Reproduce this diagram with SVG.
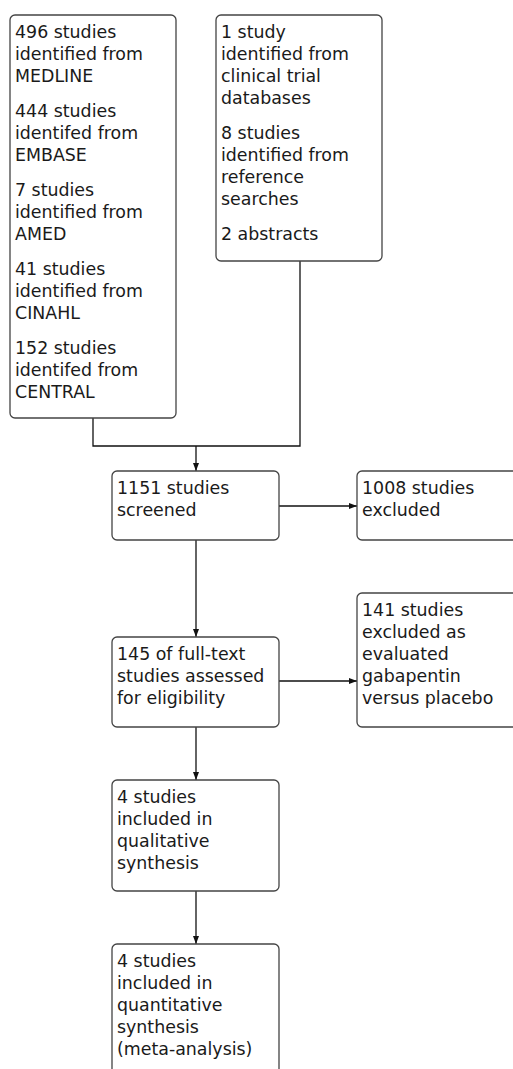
<svg xmlns="http://www.w3.org/2000/svg" width="513" height="1069" viewBox="0 0 513 1069">
<defs>
<style>
.box{fill:#ffffff;stroke:#444444;stroke-width:1.3}
.t{font-family:"DejaVu Sans","Verdana",sans-serif;font-size:17.4px;fill:#1a1a1a}
.c{fill:none;stroke:#111111;stroke-width:1.3}
</style>
<marker id="ah" viewBox="0 0 8 6" refX="8" refY="3" markerWidth="8" markerHeight="6" markerUnits="userSpaceOnUse" orient="auto">
<path d="M0,0 L8,3 L0,6 Z" fill="#111111"/>
</marker>
</defs>
<rect width="513" height="1069" fill="#ffffff"/>
<g id="connectors">
<path class="c" d="M93,418 V446 H300 V261"/>
<path class="c" d="M196,446 V471" marker-end="url(#ah)"/>
<path class="c" d="M279,506 H357" marker-end="url(#ah)"/>
<path class="c" d="M196,540 V637" marker-end="url(#ah)"/>
<path class="c" d="M279,681 H357" marker-end="url(#ah)"/>
<path class="c" d="M196,727 V780" marker-end="url(#ah)"/>
<path class="c" d="M196,891 V944" marker-end="url(#ah)"/>
</g>
<g id="n-databases">
<rect class="box" x="10" y="15" width="166" height="403" rx="5"/>
<text class="t" x="15" y="38">496 studies</text>
<text class="t" x="15" y="60">identified from</text>
<text class="t" x="15" y="82">MEDLINE</text>
<text class="t" x="15" y="117">444 studies</text>
<text class="t" x="15" y="139">identifed from</text>
<text class="t" x="15" y="161">EMBASE</text>
<text class="t" x="15" y="196">7 studies</text>
<text class="t" x="15" y="218">identified from</text>
<text class="t" x="15" y="240">AMED</text>
<text class="t" x="15" y="275">41 studies</text>
<text class="t" x="15" y="297">identified from</text>
<text class="t" x="15" y="319">CINAHL</text>
<text class="t" x="15" y="354">152 studies</text>
<text class="t" x="15" y="376">identifed from</text>
<text class="t" x="15" y="398">CENTRAL</text>
</g>
<g id="n-other">
<rect class="box" x="216" y="15" width="166" height="246" rx="5"/>
<text class="t" x="221" y="38">1 study</text>
<text class="t" x="221" y="60">identified from</text>
<text class="t" x="221" y="82">clinical trial</text>
<text class="t" x="221" y="104">databases</text>
<text class="t" x="221" y="139">8 studies</text>
<text class="t" x="221" y="161">identified from</text>
<text class="t" x="221" y="183">reference</text>
<text class="t" x="221" y="205">searches</text>
<text class="t" x="221" y="240">2 abstracts</text>
</g>
<g id="n-screened">
<rect class="box" x="112" y="471" width="167" height="69" rx="5"/>
<text class="t" x="117" y="494">1151 studies</text>
<text class="t" x="117" y="516">screened</text>
</g>
<g id="n-excluded1">
<rect class="box" x="357" y="471" width="167" height="69" rx="5"/>
<text class="t" x="362" y="494">1008 studies</text>
<text class="t" x="362" y="516">excluded</text>
</g>
<g id="n-excluded2">
<rect class="box" x="357" y="593" width="167" height="134" rx="5"/>
<text class="t" x="362" y="616">141 studies</text>
<text class="t" x="362" y="638">excluded as</text>
<text class="t" x="362" y="660">evaluated</text>
<text class="t" x="362" y="682">gabapentin</text>
<text class="t" x="362" y="704">versus placebo</text>
</g>
<g id="n-fulltext">
<rect class="box" x="112" y="637" width="167" height="90" rx="5"/>
<text class="t" x="117" y="660">145 of full-text</text>
<text class="t" x="117" y="682">studies assessed</text>
<text class="t" x="117" y="704">for eligibility</text>
</g>
<g id="n-qualitative">
<rect class="box" x="112" y="780" width="167" height="111" rx="5"/>
<text class="t" x="117" y="803">4 studies</text>
<text class="t" x="117" y="825">included in</text>
<text class="t" x="117" y="847">qualitative</text>
<text class="t" x="117" y="869">synthesis</text>
</g>
<g id="n-quantitative">
<rect class="box" x="112" y="944" width="167" height="140" rx="5"/>
<text class="t" x="117" y="967">4 studies</text>
<text class="t" x="117" y="989">included in</text>
<text class="t" x="117" y="1011">quantitative</text>
<text class="t" x="117" y="1033">synthesis</text>
<text class="t" x="117" y="1055">(meta-analysis)</text>
</g>
</svg>
